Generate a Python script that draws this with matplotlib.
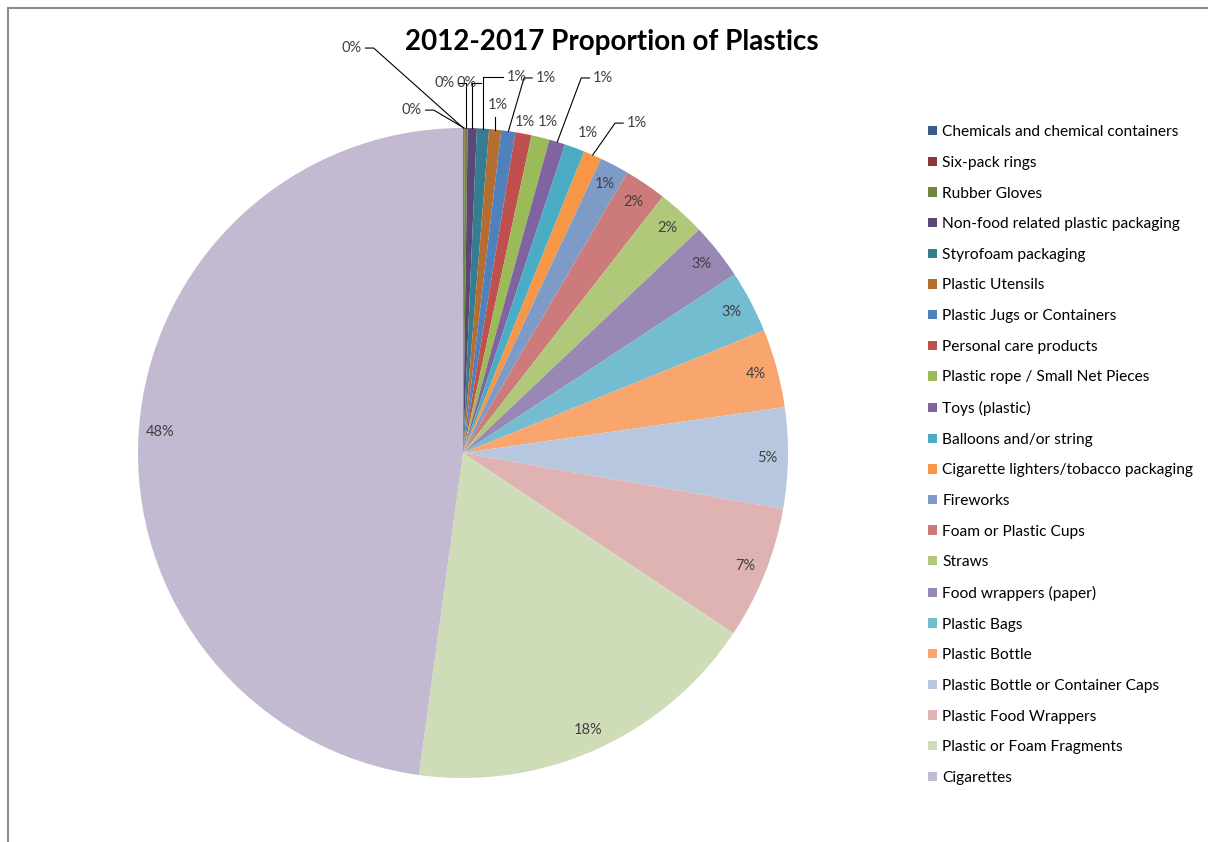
import numpy as np
import matplotlib.pyplot as plt
from matplotlib.patches import Patch
from matplotlib.lines import Line2D

plt.rcParams['font.family'] = ['Lato', 'DejaVu Sans']

# data (percent of all plastic items)
categories = [
    "Chemicals and chemical containers", "Six-pack rings", "Rubber Gloves",
    "Non-food related plastic packaging", "Styrofoam packaging", "Plastic Utensils",
    "Plastic Jugs or Containers", "Personal care products",
    "Plastic rope / Small Net Pieces", "Toys (plastic)", "Balloons and/or string",
    "Cigarette lighters/tobacco packaging", "Fireworks", "Foam or Plastic Cups",
    "Straws", "Food wrappers (paper)", "Plastic Bags", "Plastic Bottle",
    "Plastic Bottle or Container Caps", "Plastic Food Wrappers",
    "Plastic or Foam Fragments", "Cigarettes",
]
values = [0.03, 0.05, 0.15, 0.45, 0.6, 0.6, 0.7, 0.8, 0.9, 0.8, 1.0, 0.9,
          1.45, 2.1, 2.4, 2.8, 3.1, 3.9, 5.0, 6.6, 17.8, 47.8]

colors = ["#385D8A", "#8C3836", "#71893F", "#5C4776", "#357D91", "#B66D31",
          "#4F81BD", "#C0504D", "#9BBB59", "#8064A2", "#4BACC6", "#F79646",
          "#7E9BC8", "#CD7B7A", "#AFC87A", "#9A88B4", "#74BCD0", "#F8A66E",
          "#B8C7E0", "#DFB3B2", "#CFDCB8", "#C3B9D0"]

# label placement for the thin slices at the top (pie radius units) and leader style
outside = {
    0: ((-0.342, 1.246), "d"),
    1: ((-0.157, 1.055), "d"),
    2: ((-0.058, 1.138), "v"),
    3: ((0.012, 1.138), "v"),
    4: ((0.166, 1.157), "v"),
    5: ((0.108, 1.071), "b"),
    6: ((0.255, 1.154), "d"),
    7: ((0.191, 1.018), None),
    8: ((0.262, 1.018), None),
    9: ((0.431, 1.154), "d"),
    10: ((0.385, 0.985), None),
    11: ((0.535, 1.015), "d"),
}

W, H = 1208, 842
fig = plt.figure(figsize=(W / 100, H / 100), dpi=100)

# pie axes: centre (463, 453) px, radius 325 px
R = 325
ax = fig.add_axes([(463 - R) / W, (H - 453 - R) / H, 2 * R / W, 2 * R / H])
wedges, _ = ax.pie(values, colors=colors, startangle=90, counterclock=False,
                   radius=1, wedgeprops=dict(linewidth=0))
ax.set_xlim(-1, 1)
ax.set_ylim(-1, 1)
ax.set_aspect("equal")
ax.axis("off")

total = sum(values)
txt_color = "#404040"
for i, w in enumerate(wedges):
    pct = "%.0f%%" % (values[i] / total * 100)
    mid = np.deg2rad((w.theta1 + w.theta2) / 2)
    ex, ey = np.cos(mid), np.sin(mid)
    if i in outside:
        (tx, ty), mode = outside[i]
        ax.text(tx, ty, pct, ha="center", va="center", fontsize=10.5,
                color=txt_color, clip_on=False)
        if mode is None:
            continue
        side = 0.042 if tx < ex else -0.042
        if mode == "d":
            pts = [(tx + side, ty), (tx + 1.6 * side, ty), (ex, ey)]
        elif mode == "v":
            pts = [(tx + side, ty), (ex, ty), (ex, ey)]
        else:
            pts = [(ex, ty - 0.038), (ex, ey)]
        xs, ys = zip(*pts)
        ax.plot(xs, ys, color="black", lw=0.8, clip_on=False)
    else:
        ax.text(0.935 * ex, 0.935 * ey, pct, ha="center", va="center",
                fontsize=10.5, color=txt_color)

fig.text(612 / W, 1 - 42 / H, "2012-2017 Proportion of Plastics",
         ha="center", va="center", fontsize=20, fontweight="bold")

handles = [Patch(facecolor=c, edgecolor="none") for c in colors]
fig.legend(handles, categories, loc="upper left",
           bbox_to_anchor=(922 / W, 1 - 119 / H), frameon=False,
           fontsize=11.2, handlelength=0.55, handleheight=0.55,
           handletextpad=0.35, labelspacing=1.07, borderaxespad=0)

# outer chart frame (only top and left edges are visible in the crop)
fig.add_artist(Line2D([8 / W, 8 / W], [0, 1 - 8 / H], color="#8c8c8c", lw=1.5))
fig.add_artist(Line2D([8 / W, 1], [1 - 8 / H, 1 - 8 / H], color="#8c8c8c", lw=1.5))

fig.savefig("out.png", dpi=100)
